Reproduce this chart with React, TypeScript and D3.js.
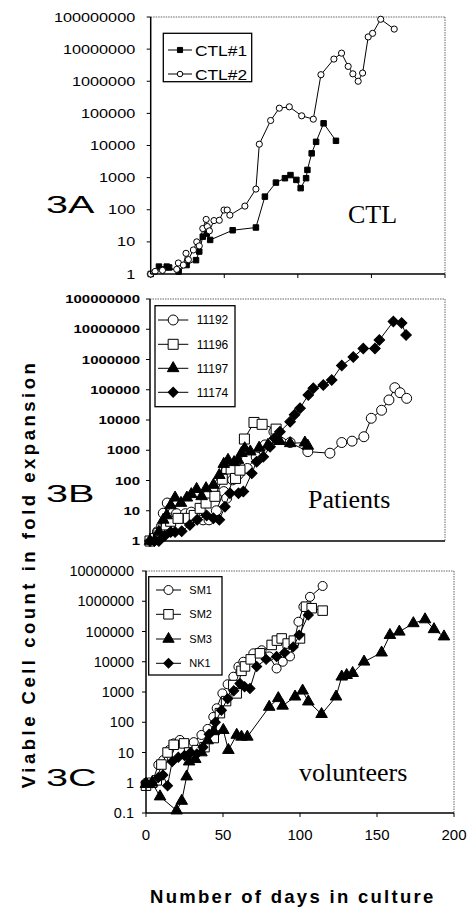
import React from "react";
import * as d3 from "d3";

type Pt = [number, number];

// ---------- Panel 3A (CTL) ----------
const ctl1: Pt[] = [
  [0, 1], [5.6, 1.7], [10.9, 1.7], [12.5, 1.6], [19, 1.2], [24.4, 1.9], [30.8, 2.7], [33, 5],
  [35.4, 14.5], [38.1, 18], [40.4, 11.5], [55.7, 23], [71.5, 28], [77.6, 256], [85.1, 700],
  [91.2, 960], [95, 1200], [99, 850], [101.9, 470], [105.6, 960], [106.5, 1740], [109.4, 5700],
  [112.4, 13000], [117.5, 49000], [125.9, 14000],
];
const ctl2: Pt[] = [
  [0, 1], [3, 1.2], [8, 1.3], [17.7, 1.4], [18.8, 2.2], [22.2, 1.9], [24, 4.4], [25.6, 2.8],
  [29, 5.6], [31.3, 10], [33, 7.5], [35.4, 26], [37.7, 50], [38.5, 30], [39.9, 22], [43, 46],
  [46.6, 47], [49.8, 98], [52, 98], [53.8, 68], [64, 130], [71.5, 440], [73.8, 11000],
  [81.5, 60000], [87.4, 145000], [94.2, 160000], [102.6, 84000], [110.5, 66000],
  [115.7, 1.6e6], [124.5, 4.9e6], [129.7, 7.5e6], [134.2, 2.9e6], [137.4, 1.7e6], [141, 1e6],
  [144, 1.8e6], [147.8, 2.4e7], [150.8, 3.1e7], [156.3, 8.5e7], [165.5, 4.2e7],
];

// ---------- Panel 3B (Patients) ----------
const p11192: Pt[] = [
  [0, 1], [5, 2], [9, 8.3], [11.7, 18], [14, 12], [18, 8], [24, 8], [28, 9], [31.6, 7], [36, 5],
  [40, 5], [45, 10], [50, 43], [52, 26], [56, 105], [60, 160], [66, 250], [72, 600], [78, 1500],
  [84, 4100], [95, 1800], [107, 900], [122, 800], [130, 1800], [137, 2000], [145, 2800],
  [150, 11400], [157, 21000], [162, 46000], [166, 117000], [169.5, 80000], [174, 52000],
];
const p11196: Pt[] = [
  [0, 1], [3, 1.2], [6, 1.8], [8, 2.5], [11, 3.4], [14, 4.5], [19, 5.6], [26, 5.6], [30, 7],
  [34, 12], [38, 18], [44, 30], [49, 110], [52, 250], [55, 240], [58, 117], [61, 220],
  [64, 2350], [70.5, 8300], [76, 7200], [85.5, 5000],
];
const p11197: Pt[] = [
  [0, 1], [3, 1], [6, 2], [9, 5], [11.3, 7], [14, 15], [17, 27], [21, 18], [25, 27], [28, 35],
  [31.6, 52], [35, 30], [38, 55], [43, 71], [47, 150], [50, 350], [52.9, 475], [57, 400],
  [59.7, 475], [62, 800], [64.2, 1150], [68, 900], [74, 1200], [80, 1500], [87.9, 2000],
  [95, 1700], [105, 1780], [107, 1400],
];
const p11174: Pt[] = [
  [0, 1], [3, 1], [6, 1], [10, 1.5], [14, 2], [17, 2], [21.5, 2.1], [27, 3.4], [32, 5],
  [38.4, 7], [43, 5.6], [47, 5], [50.8, 13.6], [54.2, 38], [60, 38], [63.3, 43], [69, 172],
  [72.3, 420], [76.8, 610], [81.4, 1300], [84.5, 2500], [88.1, 4100], [95, 8800], [98, 15000],
  [101.7, 24500], [107.3, 67000], [110.7, 112000], [117.5, 144000], [123.2, 210000],
  [130, 630000], [137.8, 1.2e6], [144.6, 2.3e6], [152.5, 2.3e6], [155.5, 4.4e6],
  [165, 1.8e7], [170.6, 1.6e7], [173.6, 6.5e6],
];

// ---------- Panel 3C (volunteers) ----------
const sm1: Pt[] = [
  [0, 1], [4, 1], [8, 3.9], [11.2, 5.6], [15, 12], [18, 20], [22, 26], [27.5, 18], [31, 22],
  [36, 38], [40, 60], [43.7, 150], [45.9, 290], [49.6, 900], [53, 1800], [56.7, 3200],
  [60, 6900], [63.2, 10000], [69.7, 19000], [75.1, 24000], [80, 15000], [84.8, 6000],
  [88.8, 10000], [93.5, 15000], [96, 40000], [99, 210000], [102.2, 660000], [106.5, 1.4e6],
  [114.7, 3.2e6],
];
const sm2: Pt[] = [
  [0, 0.8], [4, 1], [7, 1.2], [10, 4], [14, 10], [18, 18], [24.7, 20], [28, 10], [33, 12],
  [38, 15], [44, 30], [48, 200], [52, 500], [56.7, 1700], [58.9, 900], [62, 5000],
  [64.3, 7000], [68, 12000], [74, 19000], [81.6, 36000], [85, 50000], [88.1, 59000],
  [92, 40000], [96, 50000], [100, 59000], [103.9, 660000], [107.6, 590000], [114.7, 490000],
];
const sm3: Pt[] = [
  [0, 0.9], [4, 1], [9.1, 0.35], [19.9, 0.12], [23.2, 0.25], [26.4, 1.6], [28, 5], [32, 6],
  [36, 10], [40, 25], [44, 50], [50.2, 55], [53.5, 12], [58.9, 38], [62, 33], [65.8, 33],
  [80, 320], [85.9, 620], [88.7, 350], [96.8, 700], [101.7, 1100], [105.4, 480], [114, 185],
  [123.4, 700], [127.1, 3200], [130.3, 3600], [134.2, 4200], [141.6, 10000], [153, 20000],
  [158.4, 76000], [164.5, 98000], [173.6, 186000], [181.2, 250000], [187, 118000],
  [193.5, 68000],
];
const nk1: Pt[] = [
  [0, 1], [4, 1], [8, 1.5], [11, 1.8], [14, 0.8], [17, 5], [21, 7], [25, 8], [29, 10], [33, 9],
  [37, 15], [41, 40], [45, 100], [49, 250], [53, 600], [57, 1100], [61, 1900], [64, 1500],
  [67.5, 1300], [71.9, 7000], [78, 12000], [84.8, 15000], [90, 20000], [95.6, 31000],
  [99.5, 76000], [105.4, 350000],
];

// ---------- ticks ----------
const yTicksAB = [1, 10, 100, 1000, 10000, 100000, 1000000, 10000000, 100000000];
const yLabelsAB = ["1", "10", "100", "1000", "10000", "100000", "1000000", "10000000", "100000000"];
const yTicksC = [0.1, 1, 10, 100, 1000, 10000, 100000, 1000000, 10000000];
const yLabelsC = ["0.1", "1", "10", "100", "1000", "10000", "100000", "1000000", "10000000"];
const xTicks = [0, 50, 100, 150, 200];
const xLabels = ["0", "50", "100", "150", "200"];

const namesA = ["CTL#1", "CTL#2"];
const namesB = ["11192", "11196", "11197", "11174"];
const namesC = ["SM1", "SM2", "SM3", "NK1"];

type Shape = "circle" | "square" | "triangle" | "diamond";
interface Series { name: string; data: Pt[]; shape: Shape; filled: boolean; }

interface PanelProps {
  left: number; right: number; top: number; bottom: number;
  yDomain: [number, number];
  yTicks: number[]; yLabels: string[];
  tickFs: number; tickSx: number; tickGap: number; tickWeight: string;
  xTickMarks: boolean; xTickLabels: boolean;
  series: Series[];
  sizes: Record<Shape, number>;
  legend: { x0: number; y0: number; x1: number; y1: number; lx0: number; lx1: number; tx: number; rows: number[]; fs: number; sx: number; sizes: Record<Shape, number> };
  label: { text: string; x: number; y: number };
  note: { text: string; x: number; y: number };
}

const sans = "'Liberation Sans', Arial, sans-serif";
const serif = "'Liberation Serif', 'Times New Roman', serif";

function markerPath(shape: Shape, size: number): string {
  const t = shape === "circle" ? d3.symbolCircle : shape === "triangle" ? d3.symbolTriangle : d3.symbolSquare;
  return d3.symbol().type(t).size(size)() as string;
}

function Marker({ shape, filled, cx, cy, size }: { shape: Shape; filled: boolean; cx: number; cy: number; size: number }) {
  const rot = shape === "diamond" ? " rotate(45)" : "";
  return (
    <path
      d={markerPath(shape, size)}
      transform={`translate(${cx},${cy})${rot}`}
      fill={filled ? "#000" : "#fff"}
      stroke="#000"
      strokeWidth={1}
    />
  );
}

function Panel(p: PanelProps) {
  const x = d3.scaleLinear().domain([0, 200]).range([p.left, p.right]);
  const y = d3.scaleLog().domain(p.yDomain).range([p.bottom, p.top]);
  const line = d3.line<Pt>().x((d) => x(d[0])).y((d) => y(d[1]));
  const L = p.legend;
  return (
    <g>
      <line x1={p.left} x2={p.right} y1={p.top} y2={p.top} stroke="#555" strokeWidth={0.9} strokeDasharray="1.5 1" />
      <line x1={p.right} x2={p.right} y1={p.top} y2={p.bottom} stroke="#555" strokeWidth={0.9} strokeDasharray="1.5 1" />
      {p.yTicks.map((v, i) => (
        <g key={"yt" + i}>
          <line x1={p.left - 4} x2={p.left} y1={y(v)} y2={y(v)} stroke="#000" strokeWidth={1} />
          <text
            transform={`translate(${p.left - p.tickGap},${y(v) + p.tickFs * 0.36}) scale(${p.tickSx},1)`}
            textAnchor="end"
            fontFamily={sans}
            fontSize={p.tickFs}
            fontWeight={p.tickWeight}
            fill="#000"
          >
            {p.yLabels[i]}
          </text>
        </g>
      ))}
      {p.xTickMarks &&
        xTicks.map((v, i) => (
          <line key={"xt" + i} x1={x(v)} x2={x(v)} y1={p.bottom} y2={p.bottom + 4} stroke="#000" strokeWidth={1} />
        ))}
      {p.xTickLabels &&
        xTicks.map((v, i) => (
          <text key={"xl" + i} x={x(v)} y={p.bottom + 27} textAnchor="middle" fontFamily={sans} fontSize={15} fill="#000">
            {xLabels[i]}
          </text>
        ))}
      {p.series.map((s) => (
        <g key={s.name}>
          <path d={line(s.data) as string} fill="none" stroke="#000" strokeWidth={1} />
          {s.data.map((d, j) => (
            <Marker key={j} shape={s.shape} filled={s.filled} cx={x(d[0])} cy={y(d[1])} size={p.sizes[s.shape]} />
          ))}
        </g>
      ))}
      <line x1={p.left} x2={p.left} y1={p.top} y2={p.bottom} stroke="#000" strokeWidth={1.5} />
      <line x1={p.left} x2={p.right} y1={p.bottom} y2={p.bottom} stroke="#000" strokeWidth={1.5} />
      <rect x={L.x0} y={L.y0} width={L.x1 - L.x0} height={L.y1 - L.y0} fill="#fff" stroke="#000" strokeWidth={1.3} />
      {p.series.map((s, i) => (
        <g key={"lg" + i}>
          <line x1={L.lx0} x2={L.lx1} y1={L.rows[i]} y2={L.rows[i]} stroke="#000" strokeWidth={1} />
          <Marker shape={s.shape} filled={s.filled} cx={(L.lx0 + L.lx1) / 2} cy={L.rows[i]} size={L.sizes[s.shape]} />
          <text
            transform={`translate(${L.tx},${L.rows[i] + L.fs * 0.36}) scale(${L.sx},1)`}
            fontFamily={sans}
            fontSize={L.fs}
            fill="#000"
          >
            {s.name}
          </text>
        </g>
      ))}
      <text transform={`translate(${p.label.x},${p.label.y}) scale(1.65,1)`} fontFamily={sans} fontSize={24} fill="#000">
        {p.label.text}
      </text>
      <text x={p.note.x} y={p.note.y} fontFamily={serif} fontSize={26} fill="#000">
        {p.note.text}
      </text>
    </g>
  );
}

export default function App() {
  const seriesA: Series[] = [
    { name: namesA[0], data: ctl1, shape: "square", filled: true },
    { name: namesA[1], data: ctl2, shape: "circle", filled: false },
  ];
  const seriesB: Series[] = [
    { name: namesB[0], data: p11192, shape: "circle", filled: false },
    { name: namesB[1], data: p11196, shape: "square", filled: false },
    { name: namesB[2], data: p11197, shape: "triangle", filled: true },
    { name: namesB[3], data: p11174, shape: "diamond", filled: true },
  ];
  const seriesC: Series[] = [
    { name: namesC[0], data: sm1, shape: "circle", filled: false },
    { name: namesC[1], data: sm2, shape: "square", filled: false },
    { name: namesC[2], data: sm3, shape: "triangle", filled: true },
    { name: namesC[3], data: nk1, shape: "diamond", filled: true },
  ];
  return (
    <svg width={469} height={915} style={{ position: "absolute", left: 0, top: 0, background: "#fff" }}>
      <rect x={0} y={0} width={469} height={915} fill="#fff" />
      <Panel
        left={150.7} right={445} top={17} bottom={274}
        yDomain={[1, 1e8]} yTicks={yTicksAB} yLabels={yLabelsAB}
        tickFs={12.5} tickSx={1.3} tickGap={15.5} tickWeight="normal"
        xTickMarks={true} xTickLabels={false}
        series={seriesA}
        sizes={{ circle: 30, square: 30, triangle: 40, diamond: 30 }}
        legend={{ x0: 163.3, y0: 33.3, x1: 251.7, y1: 81.7, lx0: 168, lx1: 192, tx: 195, rows: [50, 74], fs: 15.5, sx: 1.12, sizes: { circle: 24, square: 26, triangle: 30, diamond: 24 } }}
        label={{ text: "3A", x: 46, y: 213 }}
        note={{ text: "CTL", x: 348, y: 223 }}
      />
      <Panel
        left={150} right={445} top={299} bottom={541}
        yDomain={[1, 1e8]} yTicks={yTicksAB} yLabels={yLabelsAB}
        tickFs={11.5} tickSx={1.3} tickGap={10} tickWeight="bold"
        xTickMarks={false} xTickLabels={false}
        series={seriesB}
        sizes={{ circle: 78, square: 100, triangle: 58, diamond: 56 }}
        legend={{ x0: 155, y0: 305.7, x1: 235, y1: 406.7, lx0: 158, lx1: 188.3, tx: 196.7, rows: [320, 344.3, 368.3, 392.3], fs: 12, sx: 1, sizes: { circle: 78, square: 100, triangle: 58, diamond: 50 } }}
        label={{ text: "3B", x: 46, y: 501.7 }}
        note={{ text: "Patients", x: 308, y: 508 }}
      />
      <Panel
        left={146} right={454} top={571} bottom={813}
        yDomain={[0.1, 1e7]} yTicks={yTicksC} yLabels={yLabelsC}
        tickFs={14.5} tickSx={1} tickGap={12} tickWeight="normal"
        xTickMarks={true} xTickLabels={true}
        series={seriesC}
        sizes={{ circle: 64, square: 90, triangle: 58, diamond: 50 }}
        legend={{ x0: 148.7, y0: 576.7, x1: 222, y1: 675, lx0: 156, lx1: 181, tx: 189.3, rows: [590, 614.3, 639, 663.3], fs: 11, sx: 1, sizes: { circle: 64, square: 90, triangle: 55, diamond: 45 } }}
        label={{ text: "3C", x: 46, y: 786 }}
        note={{ text: "volunteers", x: 299, y: 781 }}
      />
      <text
        transform="translate(35,574) rotate(-90)"
        textAnchor="middle"
        fontFamily={sans}
        fontWeight="bold"
        fontSize={18.5}
        letterSpacing={3.5}
        fill="#000"
      >
        Viable Cell count in fold expansion
      </text>
      <text x={150} y={903} fontFamily={sans} fontWeight="bold" fontSize={18.5} letterSpacing={2.3} fill="#000">
        Number of days in culture
      </text>
    </svg>
  );
}
